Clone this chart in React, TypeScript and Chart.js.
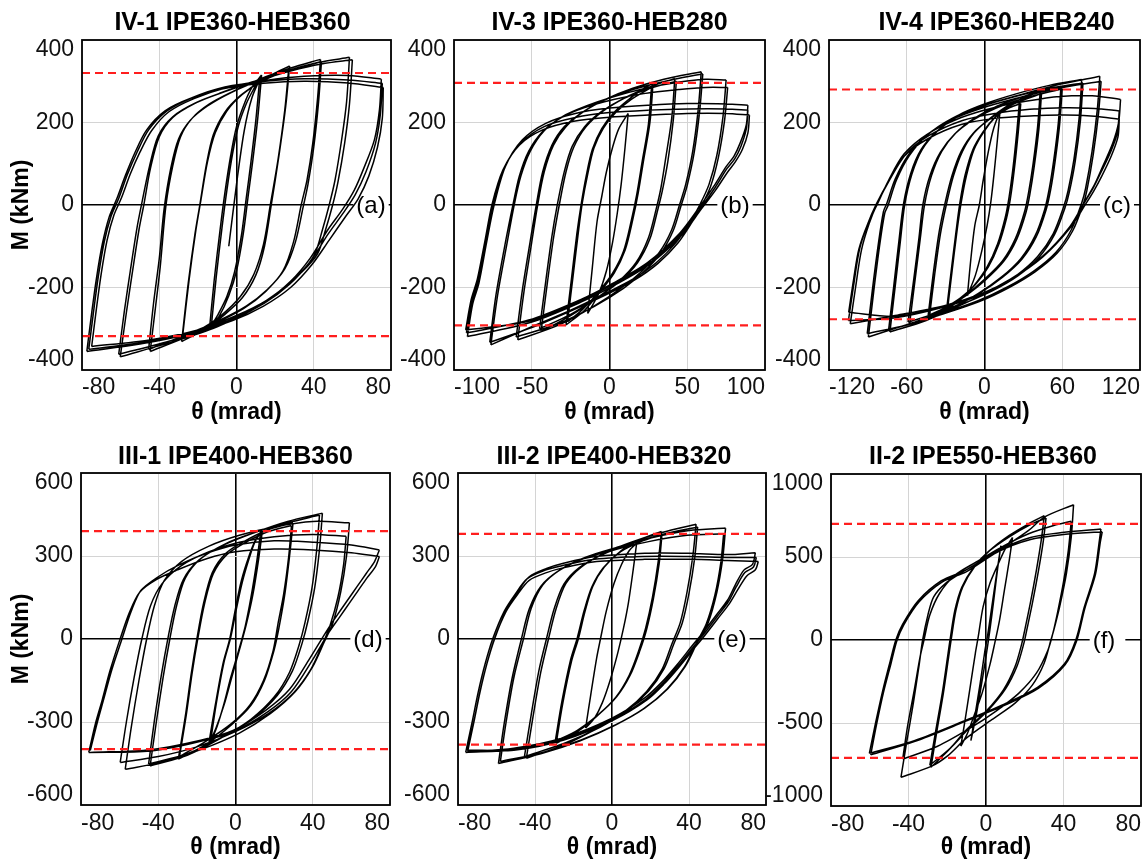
import React, { useEffect, useRef } from "react";
import { Chart, registerables } from "chart.js";

Chart.register(...registerables);

const FONT = "'Liberation Sans', Arial, Helvetica, sans-serif";

// ---------- tick labels ----------
const xTicks80 = [-80, -40, 0, 40, 80];
const xTicks100 = [-100, -50, 0, 50, 100];
const xTicks120 = [-120, -60, 0, 60, 120];
const yTicks400 = [-400, -200, 0, 200, 400];
const yTicks600 = [-600, -300, 0, 300, 600];
const yTicks1000 = [-1000, -500, 0, 500, 1000];

// ---------- plastic moment levels (red dashed) [upper, lower] ----------
const yieldA = [320, -318];
const yieldB = [296, -292];
const yieldC = [280, -277];
const yieldD = [390, -398];
const yieldE = [380, -382];
const yieldF = [700, -710];

// ---------- hysteresis branches: flat [theta, M, theta, M, ...] ----------
const loopsA: number[][] = [
  [-4, -100, 0, 50, 4, 180, 8, 260, 13, 315],
  [-14, -300, -11.5, -180, -8.5, -60, -6, 30, -3, 120, 0, 190, 4, 245, 8, 285, 13, 315],
  [13, 315, 11, 210, 8.5, 110, 6, 20, 3.5, -70, 0, -160, -4, -220, -9, -270, -14, -300],
  [-13, -292, -10.5, -175, -7.5, -55, -5, 35, -2, 125, 1, 192, 5, 245, 9, 282, 12, 305],
  [12, 305, 10, 205, 7.5, 105, 5, 15, 2.5, -75, -1, -162, -5, -222, -9.5, -265, -13, -292],
  [-28.4, -331, -25, -190, -21.5, -70, -19, 0, -15.5, 100, -12, 170, -6, 225, 2, 265, 12, 298, 20, 320, 27.5, 337],
  [27.5, 337, 25.5, 240, 22, 120, 18, 0, 14.5, -100, 10, -170, 3, -225, -6, -265, -16, -300, -28.4, -331],
  [-28, -322, -24.5, -180, -21, -60, -18.5, 10, -15, 105, -11, 175, -5, 228, 3, 268, 13, 300, 27, 328],
  [27, 328, 25, 230, 21.5, 110, 17.5, 0, 14, -95, 9, -168, 2, -222, -8, -268, -18, -300, -28, -322],
  [-44.7, -355, -42, -250, -39.5, -150, -36.5, 0, -33, 95, -29, 165, -23, 210, -14, 245, -2, 275, 12, 305, 28, 332, 43.5, 353],
  [43.5, 353, 42, 260, 39.5, 150, 36.5, 60, 33.5, 0, 29.5, -90, 24, -160, 15, -210, 4, -250, -10, -285, -27, -322, -44.7, -355],
  [-45.5, -350, -43, -240, -40, -130, -37.5, -10, -34, 90, -30, 160, -24, 205, -15, 240, -3, 272, 12, 302, 28, 328, 44, 348],
  [44, 348, 42.5, 250, 40, 140, 37, 50, 34.5, -5, 30.5, -90, 25, -155, 16, -205, 5, -245, -10, -282, -28, -318, -45.5, -350],
  [-60.2, -368, -57, -260, -54, -166, -50.5, -60, -48, 0, -44.5, 90, -40, 165, -33, 212, -22, 245, -8, 272, 8, 298, 25, 322, 42, 345, 58.5, 358],
  [58.5, 358, 57, 250, 54.5, 160, 51, 60, 48, 0, 44.5, -60, 40.4, -120, 33, -165, 22, -210, 8, -255, -10, -295, -32, -330, -60.2, -368],
  [-61, -362, -58, -255, -55, -160, -51.5, -55, -49, 5, -45, 95, -40.5, 168, -33, 214, -21, 248, -6, 275, 10, 300, 28, 325, 44, 342, 60, 352],
  [60, 352, 58.5, 245, 56, 150, 52.5, 55, 49.5, -5, 46, -62, 42, -118, 34, -162, 23, -206, 9, -250, -10, -292, -33, -328, -61, -362],
  [-75, -343, -72.5, -250, -70, -165, -67, -85, -63.5, -25, -59.5, 18, -55, 75, -50, 128, -44, 180, -35, 226, -22, 258, -5, 285, 15, 302, 35, 312, 58, 314, 75, 305],
  [75, 305, 74, 230, 71.4, 158, 66, 90, 61, 36, 55, -10, 47.3, -60, 38, -130, 28, -185, 16, -230, 0, -268, -20, -303, -45, -327, -75, -343],
  [-76.5, -350, -74, -258, -71.5, -172, -68.5, -90, -65, -28, -61, 16, -56.5, 74, -51.5, 128, -45.5, 182, -36, 228, -23, 260, -6, 286, 15, 300, 35, 306, 58, 303, 75.5, 295],
  [75.5, 295, 74.5, 220, 72, 150, 67, 80, 61.5, 25, 55.5, -18, 47.5, -70, 38.5, -135, 27.5, -192, 14.5, -238, -1, -275, -22, -308, -48, -333, -76.5, -350],
  [-77.5, -355, -75, -262, -72.5, -177, -69.5, -95, -66, -30, -62, 15, -57.5, 72, -52.5, 128, -46.5, 182, -37, 228, -24, 258, -7, 282, 14, 295, 35, 300, 58, 296, 76, 285],
  [76, 285, 75.5, 210, 73, 140, 68.5, 70, 63, 15, 56.5, -28, 48, -85, 39, -145, 28, -200, 14, -245, -2, -280, -24, -312, -50, -337, -77.5, -355],
];

const loopsB: number[][] = [
  [-14, -263, -11, -150, -8, -40, -5, 20, -2, 80, 2, 140, 6, 185, 12, 222],
  [12, 222, 10, 140, 7.5, 50, 5, -20, 2, -90, -2, -160, -7, -215, -14, -263],
  [-28, -291, -24.5, -180, -21, -70, -18.3, 0, -15, 70, -11, 135, -5, 185, 3, 225, 13, 258, 21, 280, 28, 295],
  [28, 295, 26, 200, 22, 110, 18.5, 30, 15, -35, 10, -110, 3, -165, -6, -210, -16, -255, -28, -291],
  [-27, -283, -23.5, -175, -20, -65, -17.5, 5, -14, 75, -10, 138, -4, 186, 4, 224, 14, 256, 27, 285],
  [27, 285, 25, 195, 21, 105, 17.5, 25, 14, -38, 9, -112, 2, -165, -7, -210, -17, -252, -27, -283],
  [-44, -307, -40, -190, -36, -80, -32.3, 0, -28, 80, -23, 140, -15, 190, -4, 228, 10, 260, 25, 285, 42, 307],
  [42, 307, 40, 210, 36, 110, 33, 40, 30, -10, 25, -80, 17, -140, 6, -185, -8, -225, -25, -268, -44, -307],
  [-45, -300, -41, -185, -37, -75, -33.5, 2, -29, 82, -24, 142, -16, 190, -5, 227, 9, 258, 25, 282, 43, 300],
  [43, 300, 41, 205, 37.5, 105, 34, 35, 31, -12, 26, -82, 18, -140, 7, -184, -7, -222, -25, -265, -45, -300],
  [-59, -327, -55, -210, -50, -90, -46.2, 0, -42, 80, -36, 145, -28, 190, -16, 228, -2, 257, 15, 283, 35, 305, 59, 323],
  [59, 323, 57, 230, 53.5, 130, 49, 50, 45, 0, 40, -60, 32, -115, 21, -160, 8, -200, -10, -245, -32, -290, -59, -327],
  [-60, -320, -56, -205, -51, -88, -47, 2, -43, 80, -37, 145, -29, 190, -17, 226, -3, 255, 15, 280, 36, 300, 60, 318],
  [60, 318, 58, 228, 54.5, 128, 50, 48, 46, -2, 41, -62, 33, -117, 22, -162, 9, -202, -10, -246, -33, -288, -60, -320],
  [-76.3, -339, -72, -220, -66, -95, -61.3, 0, -57, 70, -51, 130, -42, 180, -30, 215, -15, 240, 2, 262, 22, 282, 45, 298, 62, 305, 75, 303],
  [75, 303, 73, 215, 69, 120, 64, 50, 58, 0, 52, -40, 43, -90, 30, -140, 15, -180, -3, -215, -25, -255, -50, -295, -76.3, -339],
  [-77, -333, -73, -218, -67, -92, -62, 2, -58, 70, -52, 130, -43, 178, -31, 212, -16, 236, 2, 255, 22, 270, 45, 280, 62, 285, 76, 285],
  [76, 285, 74, 205, 70, 115, 65, 45, 59, -3, 53, -42, 44, -92, 31, -142, 16, -182, -2, -217, -25, -257, -50, -297, -77, -333],
  [-91.4, -319, -88, -240, -84, -190, -79, -90, -74.2, 0, -67, 93, -56, 158, -41, 198, -22, 222, 0, 235, 25, 242, 50, 246, 75, 245, 89, 242],
  [89, 242, 88, 195, 84, 150, 80, 118, 75, 93, 67, 45, 58, -4, 45, -69, 24, -141, 2, -190, -19, -230, -52, -279, -92, -310],
  [-92, -310, -88.5, -235, -84.5, -185, -79.5, -88, -75, 0, -68, 88, -57, 150, -42, 190, -22, 212, 0, 224, 25, 230, 50, 233, 75, 233, 89, 230],
  [89, 230, 88, 185, 84.5, 142, 80.5, 112, 75.5, 88, 67.5, 40, 58.5, -8, 45.5, -72, 24.5, -144, 2.5, -192, -18.5, -232, -52, -282, -92.5, -303],
  [-92.5, -303, -89, -230, -85, -180, -80, -85, -75.5, 2, -68.5, 85, -58, 145, -43, 182, -23, 203, 0, 213, 25, 218, 50, 222, 75, 222, 90, 218],
  [90, 218, 89, 175, 85.5, 135, 81, 105, 76, 80, 68, 35, 59, -10, 46, -75, 25, -146, 3, -195, -18, -235, -51, -285, -91.4, -319],
];

const loopsC: number[][] = [
  [-13.2, -220, -10.5, -130, -7.5, -50, -4, 0, -1, 60, 3, 130, 7, 185, 12, 228],
  [12, 228, 10, 160, 7.5, 80, 5, 10, 2, -50, -2, -110, -7, -170, -13.2, -220],
  [-28.5, -252, -25, -160, -21.5, -70, -18.3, 0, -14, 70, -8, 135, 0, 180, 9, 215, 18, 238, 27, 252],
  [27, 252, 25, 180, 22, 90, 19, 20, 16, -30, 10, -95, 2, -150, -8, -195, -18, -228, -28.5, -252],
  [-29, -247, -25.5, -155, -22, -65, -19, 5, -15, 72, -9, 134, -1, 178, 8, 212, 18, 234, 28, 246],
  [28, 246, 26, 175, 23, 86, 20, 16, 17, -32, 11, -96, 3, -150, -7, -193, -18, -224, -29, -247],
  [-42.5, -272, -38.5, -170, -34, -70, -29.5, 0, -24, 70, -17, 130, -8, 175, 5, 212, 22, 248, 43, 276],
  [43, 276, 41, 190, 37.5, 100, 34, 30, 31, -15, 24, -80, 14, -135, 0, -180, -15, -220, -28, -248, -42.5, -272],
  [-43.5, -268, -39.5, -165, -35, -65, -30.5, 4, -25, 72, -18, 130, -9, 173, 4, 208, 22, 244, 44, 270],
  [44, 270, 42, 185, 38.5, 96, 35, 26, 32, -18, 25, -82, 15, -136, 1, -181, -14, -219, -28, -246, -43.5, -268],
  [-57.8, -288, -53.5, -180, -49.5, -80, -46.3, 0, -41, 70, -33, 130, -22, 175, -8, 210, 10, 240, 32, 265, 59, 288],
  [59, 288, 57, 200, 53.5, 110, 50, 40, 46.5, -10, 39, -75, 28, -130, 13, -175, -5, -215, -28, -255, -57.8, -288],
  [-59, -284, -54.5, -178, -50.5, -78, -47.5, 2, -42, 72, -34, 128, -23, 172, -9, 206, 9, 235, 32, 260, 60, 282],
  [60, 282, 58, 196, 54.5, 106, 51, 36, 47.5, -12, 40, -77, 29, -131, 14, -175, -4, -214, -28, -252, -59, -284],
  [-73, -308, -69, -200, -65, -90, -61.6, 0, -56, 75, -48, 135, -36, 180, -20, 218, 0, 245, 25, 270, 50, 290, 75, 304],
  [75, 304, 73, 210, 69, 110, 64.5, 35, 61, -5, 53, -70, 41, -125, 25, -170, 5, -208, -20, -245, -45, -280, -73, -308],
  [-74, -303, -70, -196, -66, -86, -62.5, 3, -57, 76, -49, 134, -37, 178, -21, 214, -1, 240, 25, 264, 50, 283, 76, 296],
  [76, 296, 74, 204, 70, 106, 65.5, 32, 62, -8, 54, -72, 42, -127, 26, -171, 6, -208, -19, -243, -45, -277, -74, -303],
  [-89.6, -320, -85.5, -210, -81, -100, -77, -20, -74.3, 0, -68, 60, -58, 120, -44, 170, -25, 210, -2, 240, 25, 265, 55, 290, 89, 312],
  [89, 312, 87, 230, 83, 130, 78, 40, 75, 5, 67, -60, 55, -115, 38, -160, 18, -198, -5, -232, -35, -265, -60, -290, -89.6, -320],
  [-90.5, -312, -86.5, -205, -82, -96, -78, -16, -75.5, 3, -69, 62, -59, 120, -45, 168, -26, 206, -3, 234, 24, 258, 55, 282, 90, 300],
  [90, 300, 88, 222, 84, 124, 79, 35, 76, 0, 68, -63, 56, -117, 39, -162, 19, -200, -4, -234, -34, -266, -60, -291, -90.5, -312],
  [-104.8, -260, -101, -180, -97, -108, -90, -45, -83, 0, -74, 60, -62, 124, -44, 172, -18, 212, 7, 236, 33, 252, 58, 263, 83, 265, 105, 256],
  [105, 256, 103.5, 200, 99, 150, 91, 92, 85, 50, 78, 12, 66, -52, 45, -124, 20, -180, 0, -212, -31, -244, -69, -268, -103.6, -288],
  [-103.6, -288, -99.5, -200, -95, -110, -89, -45, -82.5, 5, -73, 62, -61, 122, -43, 168, -17, 205, 8, 222, 35, 232, 62, 236, 85, 234, 104, 228],
  [104, 228, 102.5, 175, 97.5, 130, 90, 80, 84, 42, 77, 5, 65, -58, 44, -128, 19, -184, -1, -216, -32, -248, -70, -274, -105, -280],
  [-105, -280, -101, -195, -96.5, -108, -90, -45, -83.5, 2, -74, 58, -62, 118, -44, 160, -18, 195, 8, 210, 35, 216, 62, 218, 85, 215, 104, 208],
  [104, 208, 103, 165, 98, 120, 90.5, 70, 84.5, 35, 78, 2, 66, -56, 45, -126, 20, -182, 0, -214, -31, -246, -69, -270, -104.8, -260],
];

const loopsD: number[][] = [
  [-14, -385, -10.5, -240, -6.5, -90, -3, 0, 0, 110, 3, 210, 7, 300, 10.5, 360, 14, 396],
  [14, 396, 12, 290, 9, 160, 5.5, 50, 2, -40, -2, -140, -6, -240, -10, -320, -14, -385],
  [-13, -375, -10, -235, -6, -85, -2.5, 5, 0.5, 110, 3.5, 205, 7, 290, 10, 350, 13, 385],
  [13, 385, 11, 280, 8, 150, 5, 45, 1.5, -45, -2.5, -140, -6, -235, -9.5, -315, -13, -375],
  [-29.6, -434, -26, -280, -23, -130, -20, 0, -16.5, 130, -12, 240, -5, 310, 5, 355, 17, 395, 29.8, 420],
  [29.8, 420, 28, 300, 25.5, 160, 22.5, 40, 20, -40, 15, -150, 8, -240, -2, -310, -15, -380, -29.6, -434],
  [-29, -425, -25.5, -275, -22.5, -125, -19.5, 2, -16, 128, -11.5, 236, -4.5, 305, 5.5, 350, 17, 388, 29, 410],
  [29, 410, 27.5, 295, 25, 165, 22, 55, 19.5, -42, 14.5, -150, 7.5, -238, -2, -305, -15, -368, -29, -425],
  [-44.2, -459, -41, -300, -37.5, -140, -34, 0, -30.5, 120, -26, 220, -18, 290, -5, 345, 10, 385, 27, 420, 43.5, 448],
  [43.5, 448, 42, 320, 39.5, 180, 36, 60, 33, -20, 28, -120, 20, -210, 8, -290, -8, -360, -25, -420, -44.2, -459],
  [-45, -452, -42, -295, -38.5, -135, -35, 2, -31.5, 118, -27, 215, -19, 285, -6, 340, 10, 385, 27, 425, 45, 455],
  [45, 455, 43.5, 325, 41, 185, 37.5, 65, 34.5, -15, 29.5, -115, 21.5, -205, 9.5, -285, -7, -355, -25, -415, -45, -452],
  [-57.1, -471, -54, -320, -50, -150, -46, 0, -42, 120, -37, 210, -28, 280, -14, 335, 2, 375, 20, 405, 40, 425, 59, 420],
  [59, 420, 57.5, 300, 54.5, 170, 50.5, 60, 46, -10, 40, -100, 31, -190, 18, -270, 2, -340, -18, -400, -38, -445, -57.1, -471],
  [-59.7, -446, -56.5, -300, -52.5, -140, -48.5, 0, -44, 120, -38, 200, -28, 265, -14, 315, 2, 350, 20, 370, 40, 378, 57.3, 371],
  [57.3, 371, 56, 270, 53, 150, 49, 50, 45, -20, 39, -110, 30, -195, 17, -270, 0, -335, -20, -390, -40, -425, -59.7, -446],
  [-75.2, -403, -71.5, -300, -68.3, -219, -64, -110, -58.8, 0, -54, 100, -49, 175, -40, 225, -30, 265, -15, 310, 0, 340, 20, 355, 40, 350, 60, 340, 74.5, 322],
  [74.5, 322, 72, 280, 67.6, 236, 63, 190, 59, 150, 53, 90, 47, 27, 38.4, -71, 28, -182, 16, -256, -1, -330, -18, -366, -44, -400, -75.2, -410],
  [-76, -410, -72.5, -305, -69, -220, -65, -115, -60, -5, -55, 95, -49.5, 170, -41, 215, -30, 250, -15, 290, 0, 315, 20, 325, 40, 322, 60, 312, 74.5, 298],
  [74.5, 298, 72.5, 262, 68, 220, 63.5, 175, 59.5, 135, 54, 80, 48, 20, 39.5, -80, 29, -190, 17, -262, 0, -332, -18, -370, -44, -405, -76, -410],
];

const loopsE: number[][] = [
  [-13.7, -322, -11, -200, -8, -70, -6, 0, -3, 100, 1, 200, 5, 270, 9, 320, 12.8, 346],
  [12.8, 346, 11, 250, 8.5, 130, 6, 40, 3, -50, -1, -150, -5, -230, -9, -285, -13.7, -322],
  [-29, -377, -25.5, -230, -21, -80, -17.5, 0, -14, 100, -10, 190, -4, 260, 5, 320, 15, 360, 25.7, 389],
  [25.7, 389, 24, 280, 21, 150, 17.5, 40, 14, -40, 9, -130, 2, -210, -8, -280, -18, -335, -29, -377],
  [-29.5, -370, -26, -225, -21.5, -75, -18, 5, -14.5, 102, -10.5, 188, -4.5, 258, 4.5, 316, 15, 352, 26, 380],
  [26, 380, 24.5, 272, 21.5, 145, 18, 35, 14.5, -42, 9.5, -130, 2.5, -208, -7.5, -276, -18, -330, -29.5, -370],
  [-44.5, -431, -41, -280, -37, -120, -33, 0, -29, 110, -24, 200, -16, 260, -4, 310, 10, 350, 26, 385, 43.7, 415],
  [43.7, 415, 42, 300, 39, 170, 35.5, 60, 31, -20, 26, -110, 18, -190, 7, -260, -7, -320, -24, -380, -44.5, -431],
  [-45.5, -425, -42, -275, -38, -115, -34, 2, -30, 110, -25, 198, -17, 258, -5, 305, 10, 345, 26, 378, 44.5, 405],
  [44.5, 405, 43, 295, 40, 165, 36.5, 58, 32, -20, 27, -108, 19, -188, 8, -258, -6, -318, -24, -375, -45.5, -425],
  [-58, -443, -55, -300, -51, -140, -46, 0, -42, 110, -36, 195, -27, 250, -14, 295, 2, 330, 20, 365, 40, 392, 59, 401],
  [59, 401, 57.5, 290, 54.5, 170, 50, 60, 44.5, -10, 38, -100, 29, -180, 17, -250, 2, -310, -16, -365, -36, -410, -58, -443],
  [-59, -450, -56, -305, -52, -145, -47, 2, -43, 108, -37, 190, -28, 245, -15, 290, 1, 322, 19, 352, 39, 375, 58, 380],
  [58, 380, 56.5, 275, 53.5, 160, 49, 55, 44, -12, 37.5, -102, 28.5, -182, 16.5, -252, 1.5, -312, -16.5, -368, -37, -415, -59, -450],
  [-75, -401, -71.5, -290, -68.5, -188, -65, -90, -61, 0, -55, 103, -49, 170, -43, 225, -34, 255, -25.7, 273, -8.6, 298, 17, 310, 40, 310, 60, 305, 74.5, 312],
  [74.5, 312, 73, 270, 68.5, 249, 64, 195, 60, 140, 54, 85, 48, 30, 41, -30, 34, -91, 26, -155, 17, -213, 0, -286, -25.7, -358, -51, -395, -75, -407],
  [-76, -410, -72.5, -295, -69.5, -192, -66, -92, -62, 0, -56, 100, -50, 165, -44, 218, -35, 248, -26, 265, -9, 288, 16, 298, 40, 298, 60, 295, 75, 295],
  [75, 295, 73.5, 260, 69, 240, 64.5, 188, 60.5, 135, 54.5, 80, 48.5, 25, 41.5, -35, 34.5, -96, 26.5, -160, 17.5, -218, 0.5, -290, -25, -362, -51, -400, -76, -410],
  [-75, -407, -71.5, -292, -68.5, -190, -65, -90, -61, 2, -55, 100, -49, 162, -43, 212, -34, 240, -25, 258, -8, 280, 17, 288, 40, 288, 60, 284, 76, 280],
  [76, 280, 74.5, 250, 70, 228, 65.5, 180, 61, 128, 55, 74, 49, 20, 42, -40, 35, -100, 27, -163, 18, -221, 1, -292, -25, -365, -51, -402, -75, -401],
];

const loopsF: number[][] = [
  [-7.8, -606, -5.5, -440, -3, -260, -0.5, -60, 1, 40, 3, 200, 5.5, 400, 7.7, 568],
  [7.7, 568, 6, 430, 4, 240, 2, 60, 0, -100, -2.5, -280, -5, -450, -7.8, -606],
  [-13, -640, -10.5, -460, -8, -270, -5.5, -80, -4, 20, -1.5, 200, 2, 340, 6, 450, 10, 550, 13.7, 618],
  [13.7, 618, 12, 480, 9.5, 300, 7, 120, 4.5, -20, 2, -150, -2, -320, -6, -450, -9.5, -560, -13, -640],
  [-28.4, -767, -25.5, -560, -22, -320, -19.5, -120, -18, 0, -15.5, 180, -12, 320, -6, 440, 2, 540, 12, 630, 22, 700, 30.1, 749],
  [30.1, 749, 28.5, 600, 26, 420, 23, 230, 20, 60, 18.5, -20, 15, -160, 9, -300, 0, -430, -10, -540, -19, -660, -28.4, -767],
  [-29, -755, -26, -550, -22.5, -315, -20, -115, -18.5, 5, -16, 182, -12.5, 318, -6.5, 436, 1.5, 535, 12, 622, 22, 690, 31, 735],
  [31, 735, 29.5, 590, 27, 412, 24, 225, 21, 58, 19.5, -22, 16, -158, 10, -296, 1, -425, -9, -535, -18.5, -652, -29, -755],
  [-43.9, -827, -41, -620, -37.5, -380, -34.5, -150, -32.7, 0, -30, 150, -27, 260, -21, 340, -12, 410, 0, 490, 12, 580, 22, 660, 30.1, 740, 45.2, 815],
  [45.2, 815, 44, 620, 41.5, 400, 38, 200, 35, 60, 33.5, 0, 30, -140, 24, -270, 15, -380, 3, -480, -10, -590, -20, -700, -28, -760, -43.9, -827],
  [-43, -717, -40.5, -520, -37, -300, -34, -100, -32, 0, -29, 150, -24, 280, -16, 390, -5, 470, 8, 560, 22, 640, 35, 690, 44, 715],
  [44, 715, 42.5, 540, 40, 350, 37, 170, 34.5, 40, 32, -60, 26, -200, 17, -320, 5, -430, -8, -530, -25, -640, -43, -717],
  [-60.2, -683, -57, -500, -53.3, -305, -49.5, -130, -46.5, 2, -43, 96, -35, 237, -23, 357, -11, 418, 6, 538, 23, 618, 40.4, 649, 59.3, 669],
  [59.3, 669, 58.5, 598, 56, 398, 50.7, 197, 46.4, 2, 40.4, -145, 26.6, -285, 9.4, -386, -11, -486, -37, -606, -60.2, -683],
  [-59.5, -692, -56.5, -510, -53, -320, -49, -140, -46, -5, -42.5, 90, -34.5, 230, -22.5, 350, -10, 412, 6, 530, 23, 605, 40, 635, 60, 652],
  [60, 652, 59, 590, 56.5, 395, 51, 190, 46.8, -5, 40.8, -150, 27, -292, 9.8, -392, -11, -492, -37, -612, -59.5, -692],
];

// ---------- panel descriptions ----------
type PanelSpec = {
  title: string;
  tag: string;
  loops: number[][];
  xTicks: number[];
  yTicks: number[];
  yieldLine: number[];
  box: number[]; // page coords: left, top, right, bottom of plot area
  canvas: number[]; // page coords: left, top, width, height
  yTitle: boolean;
  titleY: number;
  titleShift: number;
  tagRight: number;
  tagGap: number;
  xTitlePad: number;
  xTickPad: number;
};

const specs: PanelSpec[] = [
  { title: "IV-1 IPE360-HEB360", tag: "(a)", loops: loopsA, xTicks: xTicks80, yTicks: yTicks400, yieldLine: yieldA,
    box: [82, 40, 391, 370], canvas: [0, 0, 395, 430], yTitle: true, titleY: 23, titleShift: -4, tagRight: 20, tagGap: 3, xTitlePad: 4, xTickPad: 4 },
  { title: "IV-3 IPE360-HEB280", tag: "(b)", loops: loopsB, xTicks: xTicks100, yTicks: yTicks400, yieldLine: yieldB,
    box: [454, 40, 765, 370], canvas: [375, 0, 395, 430], yTitle: false, titleY: 23, titleShift: 0, tagRight: 30, tagGap: 3, xTitlePad: 4, xTickPad: 4 },
  { title: "IV-4 IPE360-HEB240", tag: "(c)", loops: loopsC, xTicks: xTicks120, yTicks: yTicks400, yieldLine: yieldC,
    box: [829, 40, 1140, 370], canvas: [750, 0, 396, 430], yTitle: false, titleY: 23, titleShift: 12, tagRight: 23, tagGap: 3, xTitlePad: 4, xTickPad: 4 },
  { title: "III-1 IPE400-HEB360", tag: "(d)", loops: loopsD, xTicks: xTicks80, yTicks: yTicks600, yieldLine: yieldD,
    box: [81, 473, 391, 805], canvas: [0, 430, 395, 435], yTitle: true, titleY: 457, titleShift: 0, tagRight: 22, tagGap: 3, xTitlePad: 4, xTickPad: 5 },
  { title: "III-2 IPE400-HEB320", tag: "(e)", loops: loopsE, xTicks: xTicks80, yTicks: yTicks600, yieldLine: yieldE,
    box: [458, 473, 769, 805], canvas: [375, 430, 396, 435], yTitle: false, titleY: 457, titleShift: 2, tagRight: 34, tagGap: 3, xTitlePad: 4, xTickPad: 5 },
  { title: "II-2 IPE550-HEB360", tag: "(f)", loops: loopsF, xTicks: xTicks80, yTicks: yTicks1000, yieldLine: yieldF,
    box: [831, 474, 1141, 806], canvas: [750, 430, 396, 435], yTitle: false, titleY: 457, titleShift: -3, tagRight: 37, tagGap: 10, xTitlePad: 4, xTickPad: 5 },
];

function branchesToPoints(branches: number[][]) {
  const pts: { x: number | null; y: number | null }[] = [];
  branches.forEach((b, i) => {
    if (i > 0) pts.push({ x: null, y: null });
    for (let j = 0; j + 1 < b.length; j += 2) pts.push({ x: b[j], y: b[j + 1] });
  });
  return pts;
}

const decorPlugin = {
  id: "decor",
  beforeDatasetsDraw(chart: any, _args: any, opts: any) {
    const { ctx, chartArea } = chart;
    const y = chart.scales.y.getPixelForValue(0);
    ctx.save();
    ctx.font = `24px ${FONT}`;
    const w = ctx.measureText(opts.tag).width;
    const cx = chartArea.right - opts.tagRight;
    ctx.fillStyle = "#ffffff";
    ctx.fillRect(cx - w / 2 - 3, y - 3, w + 3 + opts.tagGap, 6);
    ctx.fillStyle = "#000000";
    ctx.textAlign = "center";
    ctx.textBaseline = "middle";
    ctx.fillText(opts.tag, cx, y + 1);
    ctx.restore();
  },
  afterDatasetsDraw(chart: any) {
    const { ctx, chartArea } = chart;
    ctx.save();
    ctx.strokeStyle = "#000000";
    ctx.lineWidth = 1.8;
    ctx.strokeRect(chartArea.left, chartArea.top, chartArea.right - chartArea.left, chartArea.bottom - chartArea.top);
    ctx.restore();
  },
  afterDraw(chart: any, _args: any, opts: any) {
    const { ctx, chartArea } = chart;
    ctx.save();
    ctx.font = `bold 25px ${FONT}`;
    ctx.fillStyle = "#000000";
    ctx.textAlign = "center";
    ctx.textBaseline = "middle";
    ctx.fillText(opts.title, (chartArea.left + chartArea.right) / 2 + opts.titleShift, opts.titleY);
    ctx.restore();
  },
};

function Panel({ spec }: { spec: PanelSpec }) {
  const ref = useRef<HTMLCanvasElement>(null);
  useEffect(() => {
    const [cl, ct, cw, ch] = spec.canvas;
    const [bl, bt, br, bb] = spec.box;
    const xMin = spec.xTicks[0];
    const xMax = spec.xTicks[spec.xTicks.length - 1];
    const yMin = spec.yTicks[0];
    const yMax = spec.yTicks[spec.yTicks.length - 1];
    const red = [
      { x: xMin, y: spec.yieldLine[0] },
      { x: xMax, y: spec.yieldLine[0] },
      { x: null, y: null },
      { x: xMin, y: spec.yieldLine[1] },
      { x: xMax, y: spec.yieldLine[1] },
    ];
    const gridColor = (c: any) => (c.tick && c.tick.value === 0 ? "#000000" : "#d4d4d4");
    const gridWidth = (c: any) => (c.tick && c.tick.value === 0 ? 1.6 : 1);
    const chart = new Chart(ref.current as HTMLCanvasElement, {
      type: "scatter",
      data: {
        datasets: [
          { data: red as any, showLine: true, borderColor: "#ff1e1e", borderWidth: 2.2, borderDash: [8, 5], pointRadius: 0, tension: 0, spanGaps: false },
          { data: branchesToPoints(spec.loops) as any, showLine: true, borderColor: "#000000", borderWidth: 1.5, pointRadius: 0, tension: 0.3, spanGaps: false, borderJoinStyle: "round" },
        ],
      },
      options: {
        animation: false,
        responsive: false,
        devicePixelRatio: 1,
        events: [],
        layout: { padding: { top: bt - ct, right: cl + cw - br, left: 0, bottom: 0 } },
        plugins: {
          legend: { display: false },
          tooltip: { enabled: false },
          decor: { title: spec.title, tag: spec.tag, titleY: spec.titleY - ct, titleShift: spec.titleShift, tagRight: spec.tagRight, tagGap: spec.tagGap },
        } as any,
        scales: {
          x: {
            type: "linear",
            min: xMin,
            max: xMax,
            afterBuildTicks: (s: any) => { s.ticks = spec.xTicks.map((v) => ({ value: v })); },
            afterFit: (s: any) => { s.height = ct + ch - bb; },
            border: { display: false },
            grid: { drawTicks: false, color: gridColor, lineWidth: gridWidth },
            ticks: {
              align: "inner",
              autoSkip: false,
              maxRotation: 0,
              minRotation: 0,
              padding: spec.xTickPad,
              color: "#111111",
              font: { family: FONT, size: 23 },
              callback: (v: any) => String(v),
            },
            title: {
              display: true,
              text: "θ (mrad)",
              color: "#000000",
              font: { family: FONT, size: 23, weight: "bold" },
              padding: { top: 0, bottom: spec.xTitlePad },
            },
          },
          y: {
            type: "linear",
            min: yMin,
            max: yMax,
            afterBuildTicks: (s: any) => { s.ticks = spec.yTicks.map((v) => ({ value: v })); },
            afterFit: (s: any) => { s.width = bl - cl; },
            border: { display: false },
            grid: { drawTicks: false, color: gridColor, lineWidth: gridWidth },
            ticks: {
              autoSkip: false,
              padding: 8,
              color: "#111111",
              font: { family: FONT, size: 23, lineHeight: 0.87 },
              callback: (v: any, i: number, arr: any[]) =>
                i === arr.length - 1 ? ["", String(v)] : i === 0 ? [String(v), ""] : String(v),
            },
            title: {
              display: spec.yTitle,
              text: "M (kNm)",
              color: "#000000",
              font: { family: FONT, size: 23, weight: "bold" },
              padding: { top: 8, bottom: 0 },
            },
          },
        },
      },
      plugins: [decorPlugin as any],
    });
    return () => chart.destroy();
  }, [spec]);
  const [cl, ct, cw, ch] = spec.canvas;
  return (
    <canvas
      ref={ref}
      width={cw}
      height={ch}
      style={{ position: "absolute", left: cl, top: ct, width: cw, height: ch }}
    />
  );
}

export default function App() {
  return (
    <div style={{ position: "fixed", left: 0, top: 0, width: 1146, height: 865, background: "#ffffff", overflow: "hidden" }}>
      {specs.map((s) => (
        <Panel key={s.tag} spec={s} />
      ))}
    </div>
  );
}
